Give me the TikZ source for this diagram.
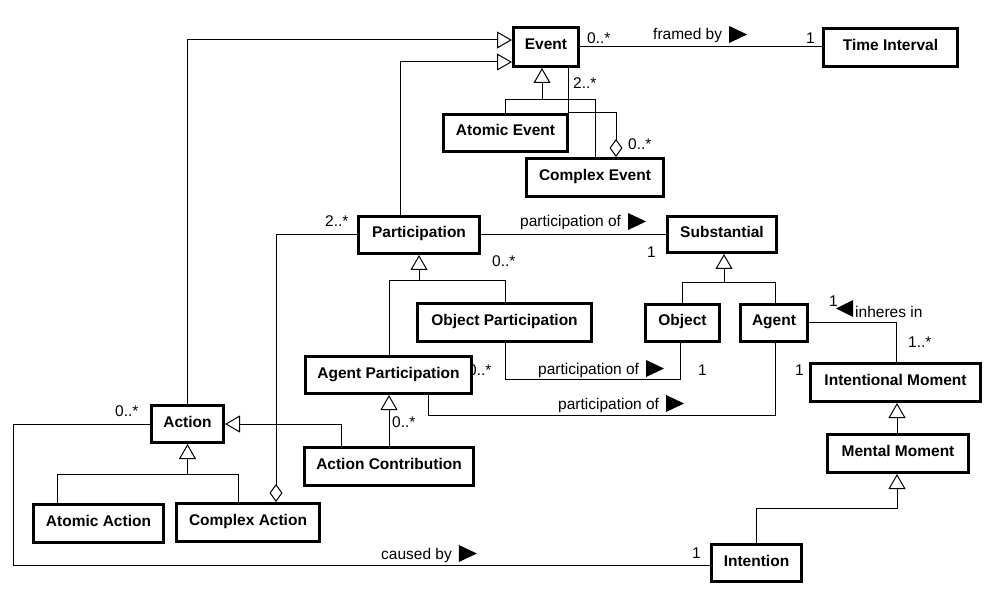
\documentclass[tikz,border=0pt]{standalone}
\usepackage{fontspec}
\setmainfont{Liberation Sans}
\usetikzlibrary{arrows.meta}
\newcommand{\rtri}{\tikz[baseline=0pt]\fill (0pt,-3pt)--(0pt,14pt)--(18pt,5.5pt)--cycle;}
\newcommand{\ltri}{\tikz[baseline=0pt]\fill (17pt,0pt)--(17pt,17pt)--(0pt,8.5pt)--cycle;}
\begin{document}
\begin{tikzpicture}[x=1pt,y=-1pt,
  box/.style={draw,line width=3pt,fill=white,font=\fontsize{15.5}{18}\selectfont\bfseries,
    inner sep=0pt,text height=11pt,text depth=5pt},
  lbl/.style={font=\fontsize{15.5}{18}\selectfont,inner sep=0pt,anchor=base west},
  conn/.style={line width=1pt},
  gen/.style={conn,-{Triangle[open,length=15pt,width=17pt,line width=1pt]}},
  agg/.style={conn,{Diamond[open,length=18pt,width=13pt,line width=1pt]}-}]
\useasboundingbox (0,0) rectangle (994,596);
% labels
\node[lbl] (l1) at (587,44) {0..*};
\node[lbl] (l2) at (653,40) {framed by\hspace{7pt}\rtri};
\node[lbl] (l3) at (806,44) {1};
\node[lbl] (l4) at (573,89) {2..*};
\node[lbl] (l5) at (628,150) {0..*};
\node[lbl] (l6) at (325,227) {2..*};
\node[lbl] (l7) at (520,227) {participation of\hspace{7pt}\rtri};
\node[lbl] (l8) at (647,258) {1};
\node[lbl] (l9) at (492,267) {0..*};
\node[lbl] (l10) at (468,375) {0..*};
\node[lbl] (l11) at (538,374) {participation of\hspace{7pt}\rtri};
\node[lbl] (l12) at (698,375) {1};
\node[lbl] (l13) at (795,375) {1};
\node[lbl] (l14) at (829,306) {1};
\node[lbl] (l15) at (836,317) {\ltri\hspace{2pt}inheres in};
\node[lbl] (l16) at (908,348) {1..*};
\node[lbl] (l17) at (558,409) {participation of\hspace{7pt}\rtri};
\node[lbl] (l18) at (115,416) {0..*};
\node[lbl] (l19) at (392,427) {0..*};
\node[lbl] (l20) at (381,559) {caused by\hspace{7pt}\rtri};
\node[lbl] (l21) at (692,558) {1};
% boxes
\node[box,minimum width=65pt,minimum height=39pt] (ev) at (546,47) {Event};
\node[box,minimum width=134pt,minimum height=38pt] (ti) at (890.5,47.5) {Time Interval};
\node[box,minimum width=124pt,minimum height=37pt] (ae) at (505.5,133) {Atomic Event};
\node[box,minimum width=137pt,minimum height=38pt] (ce) at (595,177.5) {Complex Event};
\node[box,minimum width=121pt,minimum height=37pt] (pa) at (419,235) {Participation};
\node[box,minimum width=109pt,minimum height=36pt] (su) at (722,234.5) {Substantial};
\node[box,minimum width=174pt,minimum height=38pt] (op) at (504.5,322.5) {Object Participation};
\node[box,minimum width=74pt,minimum height=37pt] (ob) at (682.5,323) {Object};
\node[box,minimum width=67pt,minimum height=37pt] (ag) at (774,323) {Agent};
\node[box,minimum width=166pt,minimum height=37pt] (ap) at (388.5,375) {Agent Participation};
\node[box,minimum width=170pt,minimum height=38pt] (im) at (895.5,382.5) {Intentional Moment};
\node[box,minimum width=72pt,minimum height=37pt] (act) at (187.5,424) {Action};
\node[box,minimum width=169pt,minimum height=38pt] (acn) at (389,466.5) {Action Contribution};
\node[box,minimum width=141pt,minimum height=38pt] (mm) at (898,453.5) {Mental Moment};
\node[box,minimum width=130pt,minimum height=38pt] (aa) at (98.5,523.5) {Atomic Action};
\node[box,minimum width=143pt,minimum height=38pt] (ca) at (248,522.5) {Complex Action};
\node[box,minimum width=90pt,minimum height=37pt] (itn) at (756.5,563) {Intention};
% connectors
\draw[gen] (act.north) |- (ev.west |- 0,40);
\draw[gen] (pa.north -| 400,0) |- (ev.west |- 0,62);
\draw[conn] (ae.north -| 505,0) -- (505,100) -- (595,100) -- (ce.north -| 595,0);
\draw[gen] (542,100) -- (ev.south -| 542,0);
\draw[agg] (ce.north -| 616,0) -- (616,113) -- (568,113) -- (ev.south -| 568,0);
\draw[conn] (ev.east) -- (ev.east -| ti.west);
\draw[conn] (pa.east) -- (pa.east -| su.west);
\draw[agg] (ca.north -| 276,0) |- (pa.west);
\draw[conn] (ap.north -| 389,0) -- (389,281) -- (505,281) -- (op.north -| 505,0);
\draw[gen] (419,281) -- (pa.south);
\draw[conn] (ob.north -| 682,0) -- (682,283) -- (775,283) -- (ag.north -| 775,0);
\draw[gen] (724,283) -- (su.south -| 724,0);
\draw[conn] (op.south -| 505,0) -- (505,379) -- (680,379) -- (ob.south -| 680,0);
\draw[conn] (ap.south -| 428,0) -- (428,415) -- (775,415) -- (ag.south -| 775,0);
\draw[conn] (ag.east) -- (896,323) -- (im.north -| 896,0);
\draw[gen] (mm.north -| 897,0) -- (im.south -| 897,0);
\draw[gen] (itn.north -| 756,0) -- (756,508) -- (897,508) -- (mm.south -| 897,0);
\draw[gen] (acn.north -| 389,0) -- (ap.south -| 389,0);
\draw[gen] (acn.north -| 341,0) |- (act.east);
\draw[conn] (aa.north -| 57,0) -- (57,474) -- (238,474) -- (ca.north -| 238,0);
\draw[gen] (187.5,474) -- (act.south);
\draw[conn] (act.west) -- (13,424) -- (13,565) -- (itn.west |- 0,565);
\end{tikzpicture}
\end{document}
